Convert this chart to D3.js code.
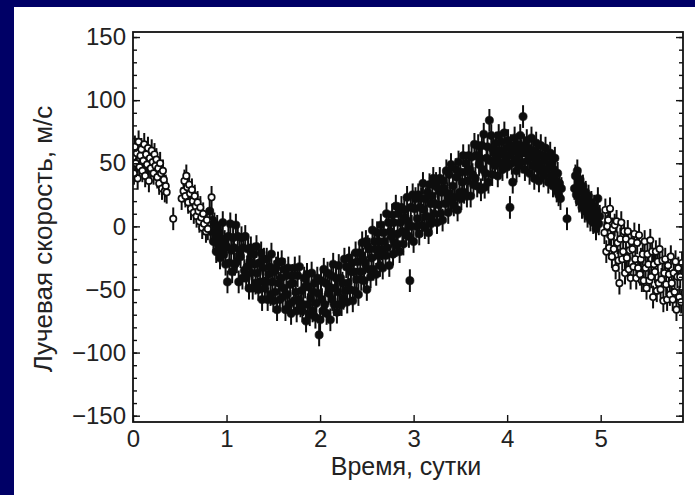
<!DOCTYPE html>
<html><head><meta charset="utf-8">
<script src="https://cdn.jsdelivr.net/npm/d3@7"></script>
<style>html,body{margin:0;padding:0;background:#000066;}svg{display:block;}</style>
</head><body>
<script>
// ---- data ----
const xTicks = [0, 1, 2, 3, 4, 5];
const yTicks = [-150, -100, -50, 0, 50, 100, 150];
const yMinorStep = 10;
const errHalf = 9; // m/s error bar half-length
const xTitle = "Время, сутки";
const yTitle = "Лучевая скорость, м/с";

// open symbols (time in days, radial velocity m/s)
const openPoints = [
[0.00,55],[0.01,42],[0.02,63],[0.03,50],[0.04,58],[0.05,38],[0.06,67],[0.07,47],[0.08,56],[0.09,61],
[0.10,44],[0.11,52],[0.12,65],[0.13,40],[0.14,57],[0.15,49],[0.16,62],[0.17,36],[0.18,54],[0.19,46],
[0.20,60],[0.21,51],[0.22,42],[0.23,57],[0.24,48],[0.25,53],[0.26,39],[0.27,46],[0.28,34],[0.29,50],
[0.30,42],[0.31,30],[0.32,44],[0.33,37],[0.34,28],[0.35,32],[0.36,27],[0.43,6],[0.52,22],[0.54,28],
[0.55,36],[0.56,24],[0.57,40],[0.58,31],[0.59,19],[0.60,33],[0.61,26],[0.62,14],[0.63,29],[0.64,20],
[0.65,11],[0.66,24],[0.67,16],[0.68,8],[0.69,19],[0.70,12],[0.71,4],[0.72,15],[0.73,7],[0.74,-1],
[0.75,10],[0.76,2],[0.78,-4],[0.79,5],[0.80,-2],[0.84,23],
[5.04,-5],[5.05,13],[5.06,-20],[5.07,0],[5.08,5],[5.09,-17],[5.10,14],[5.11,-8],[5.12,-24],[5.13,-2],
[5.14,-18],[5.15,1],[5.16,-33],[5.17,4],[5.18,-13],[5.19,-27],[5.20,-45],[5.21,-10],[5.22,3],[5.23,-26],
[5.24,-20],[5.25,-4],[5.26,-37],[5.27,-10],[5.28,-25],[5.29,-4],[5.30,-34],[5.31,-19],[5.32,-41],[5.33,-12],
[5.34,-18],[5.35,-32],[5.36,-6],[5.37,-26],[5.38,-41],[5.39,-13],[5.40,-33],[5.41,-7],[5.42,-38],[5.43,-26],
[5.44,-43],[5.45,-22],[5.46,-43],[5.47,-12],[5.48,-33],[5.49,-49],[5.50,-22],[5.51,-30],[5.52,-43],[5.53,-11],
[5.54,-40],[5.55,-20],[5.56,-56],[5.57,-30],[5.58,-36],[5.59,-20],[5.60,-51],[5.61,-28],[5.62,-45],[5.63,-18],
[5.64,-50],[5.65,-42],[5.66,-27],[5.67,-59],[5.68,-37],[5.69,-26],[5.70,-46],[5.71,-58],[5.72,-31],[5.73,-38],
[5.74,-54],[5.75,-24],[5.76,-45],[5.77,-58],[5.78,-37],[5.79,-52],[5.80,-28],[5.81,-66],[5.82,-40],[5.83,-33],
[5.84,-56],[5.85,-40],[5.86,-60],[5.87,-29]
];

// filled symbols
const filledPoints = [
[0.82,12],[0.83,-4],[0.85,5],[0.86,-12],[0.87,2],[0.88,-8],[0.89,-20],[0.90,0],[0.91,-14],[0.92,-5],
[0.93,-25],[0.94,-9],[0.95,-17],[0.96,3],[0.97,-22],[0.98,-12],[0.99,-30],[1.00,-16],[1.01,-44],
[1.02,-8],[1.03,-29],[1.04,2],[1.05,-19],[1.06,-36],[1.07,-9],[1.08,-17],[1.09,-30],[1.10,1],[1.11,-28],
[1.12,-8],[1.13,-44],[1.14,-19],[1.15,-24],[1.16,-9],[1.17,-41],[1.18,-17],[1.19,-35],[1.20,-8],[1.21,-41],
[1.22,-32],[1.23,-18],[1.24,-49],[1.25,-28],[1.26,-17],[1.27,-37],[1.28,-49],[1.29,-22],[1.30,-30],[1.31,-45],
[1.32,-16],[1.33,-37],[1.34,-50],[1.35,-29],[1.36,-44],[1.37,-21],[1.38,-58],[1.39,-33],[1.40,-26],[1.41,-49],
[1.42,-44],[1.43,-26],[1.44,-58],[1.45,-38],[1.46,-32],[1.47,-54],[1.48,-22],[1.49,-44],[1.50,-59],[1.51,-36],
[1.52,-52],[1.53,-33],[1.54,-66],[1.55,-29],[1.56,-45],[1.57,-58],[1.58,-41],[1.59,-28],[1.60,-56],[1.61,-49],
[1.62,-34],[1.63,-66],[1.64,-39],[1.65,-54],[1.66,-33],[1.67,-62],[1.68,-46],[1.69,-69],[1.70,-39],[1.71,-45],
[1.72,-59],[1.73,-33],[1.74,-52],[1.75,-67],[1.76,-39],[1.77,-58],[1.78,-32],[1.79,-63],[1.80,-51],[1.81,-67],
[1.82,-62],[1.83,-41],[1.84,-48],[1.85,-75],[1.86,-38],[1.87,-62],[1.88,-48],[1.89,-70],[1.90,-57],[1.91,-37],
[1.92,-67],[1.93,-52],[1.94,-45],[1.95,-72],[1.96,-61],[1.97,-41],[1.98,-53],[1.99,-86],[2.00,-74],[2.01,-43],
[2.02,-58],[2.03,-67],[2.04,-34],[2.05,-62],[2.06,-45],[2.07,-69],[2.08,-37],[2.09,-53],[2.10,-48],[2.11,-74],
[2.12,-39],[2.13,-58],[2.14,-30],[2.15,-62],[2.16,-49],[2.17,-41],[2.18,-68],[2.19,-52],[2.20,-31],[2.21,-62],
[2.22,-41],[2.23,-62],[2.24,-45],[2.25,-57],[2.26,-26],[2.27,-51],[2.28,-32],[2.29,-60],[2.30,-45],[2.31,-25],
[2.32,-50],[2.33,-36],[2.34,-29],[2.35,-59],[2.36,-36],[2.37,-51],[2.38,-21],[2.39,-42],[2.40,-28],[2.41,-54],
[2.42,-21],[2.43,-36],[2.44,-42],[2.45,-13],[2.46,-26],[2.47,-43],[2.48,-29],[2.49,-12],[2.50,-50],[2.51,-16],
[2.52,-34],[2.53,-18],[2.54,-40],[2.55,-25],[2.56,-3],[2.57,-34],[2.58,-12],[2.59,-18],[2.60,-38],[2.61,-5],
[2.62,-23],[2.63,-12],[2.64,-31],[2.65,1],[2.66,-18],[2.67,-33],[2.68,-5],[2.69,-12],[2.70,-23],[2.71,10],
[2.72,-17],[2.73,3],[2.74,-31],[2.75,-4],[2.76,-8],[2.77,9],[2.78,-22],[2.79,3],[2.80,-13],[2.81,16],
[2.82,-15],[2.83,-6],[2.84,10],[2.85,-20],[2.86,3],[2.87,15],[2.88,-4],[2.89,-14],[2.90,13],[2.91,7],
[2.92,-7],[2.93,23],[2.94,4],[2.95,-8],[2.96,-43],[2.97,15],[2.98,0],[2.99,25],[3.00,-12],[3.01,14],
[3.02,22],[3.03,0],[3.04,6],[3.05,25],[3.06,-6],[3.07,15],[3.08,22],[3.09,1],[3.10,34],[3.11,13],
[3.12,-1],[3.13,22],[3.14,8],[3.15,27],[3.16,-5],[3.17,33],[3.18,18],[3.185,2],[3.19,5],[3.20,24],
[3.21,38],[3.22,10],[3.23,18],[3.24,34],[3.25,3],[3.26,30],[3.27,17],[3.28,38],[3.29,10],[3.30,27],
[3.31,5],[3.32,36],[3.33,30],[3.34,18],[3.35,44],[3.36,26],[3.37,11],[3.38,41],[3.39,22],[3.40,49],
[3.41,20],[3.42,32],[3.43,17],[3.44,23],[3.45,45],[3.46,39],[3.47,13],[3.48,51],[3.49,27],[3.50,43],
[3.51,22],[3.52,35],[3.53,56],[3.54,27],[3.55,43],[3.56,50],[3.57,24],[3.58,36],[3.59,56],[3.60,45],
[3.61,24],[3.62,55],[3.63,41],[3.64,33],[3.65,65],[3.66,38],[3.67,56],[3.68,32],[3.69,64],[3.70,49],
[3.71,54],[3.72,29],[3.73,64],[3.74,45],[3.75,73],[3.76,31],[3.77,42],[3.78,54],[3.79,63],[3.80,35],
[3.81,84],[3.82,52],[3.83,72],[3.84,41],[3.85,61],
[3.86,58],[3.87,48],[3.88,66],[3.89,55],[3.90,40],[3.91,72],
[3.92,60],[3.93,50],[3.94,67],[3.95,45],[3.96,57],[3.97,74],[3.98,52],[3.99,62],[4.00,47],[4.01,68],
[4.02,56],[4.03,15],[4.04,64],[4.05,50],[4.06,35],[4.07,60],[4.08,70],[4.09,53],[4.10,44],[4.11,65],
[4.12,57],[4.13,48],[4.14,72],[4.15,60],[4.16,51],[4.17,87],[4.18,64],[4.19,45],[4.20,58],[4.21,68],
[4.22,52],[4.23,62],[4.24,42],[4.25,55],[4.26,70],[4.27,48],[4.28,60],[4.29,38],[4.30,53],[4.31,66],
[4.32,46],[4.33,58],[4.34,36],[4.35,50],[4.36,64],[4.37,44],[4.38,56],[4.39,40],[4.40,52],[4.41,62],
[4.42,45],[4.43,55],[4.44,35],[4.45,48],[4.46,58],
[4.47,40],[4.48,50],[4.49,32],[4.50,45],[4.51,54],[4.52,36],[4.53,28],[4.54,42],[4.55,25],[4.56,34],
[4.57,22],[4.58,30],[4.64,6],
[4.72,30],[4.73,40],[4.74,25],[4.75,44],[4.76,33],[4.77,20],[4.78,37],[4.79,28],[4.80,15],[4.81,32],
[4.82,22],[4.83,12],[4.84,27],[4.85,18],[4.86,8],[4.87,24],[4.88,14],[4.89,5],[4.90,19],[4.91,10],
[4.92,3],[4.93,16],[4.94,6],[4.95,-2],[4.96,12],[4.97,22],[4.98,2],[4.99,8]
];

// ---- drawing ----
const W = 695, H = 495;
const svg = d3.select("body").append("svg").attr("width", W).attr("height", H);
svg.append("rect").attr("width", W).attr("height", H).attr("fill", "#000066");
svg.append("rect").attr("x", 14).attr("y", 7).attr("width", W - 14).attr("height", H - 7).attr("fill", "#ffffff");

const plotL = 133, plotR = 683, plotT = 32, plotB = 422;
const x = d3.scaleLinear().domain([0, 5.88]).range([plotL, plotR]);
const y = d3.scaleLinear().domain([-155, 154]).range([plotB, plotT]);

const font = "'Liberation Sans', Arial, Helvetica, sans-serif";
const minorTicks = d3.range(-150, 151, yMinorStep);

const defs = svg.append("defs");
defs.append("clipPath").attr("id", "plotclip")
  .append("rect").attr("x", plotL).attr("y", plotT).attr("width", plotR - plotL).attr("height", plotB - plotT);
defs.append("filter").attr("id", "soft").append("feGaussianBlur").attr("stdDeviation", 0.45);

const dataG = svg.append("g").attr("clip-path", "url(#plotclip)").append("g").attr("filter", "url(#soft)");

function drawSeries(points, open) {
  const g = dataG.append("g");
  g.selectAll("line").data(points).join("line")
    .attr("x1", d => x(d[0])).attr("x2", d => x(d[0]))
    .attr("y1", d => y(d[1] - errHalf)).attr("y2", d => y(d[1] + errHalf))
    .attr("stroke", "#111").attr("stroke-width", 2);
  g.selectAll("circle").data(points).join("circle")
    .attr("cx", d => x(d[0])).attr("cy", d => y(d[1]))
    .attr("r", open ? 3.2 : 4.1)
    .attr("fill", open ? "#fff" : "#111")
    .attr("stroke", "#111").attr("stroke-width", open ? 1.7 : 0.6);
}
drawSeries(filledPoints, false);
drawSeries(openPoints, true);

// axes
function styleAxis(g) {
  g.select(".domain").remove();
  g.selectAll("line").attr("stroke", "#111").attr("stroke-width", 1.4);
  g.selectAll("text").attr("font-family", font).attr("font-size", 24).attr("fill", "#222");
}
svg.append("g").attr("transform", `translate(${plotL},0)`)
  .call(d3.axisLeft(y).tickValues(minorTicks).tickSize(-4).tickFormat(""))
  .call(styleAxis);
svg.append("g").attr("transform", `translate(${plotL},0)`)
  .call(d3.axisLeft(y).tickValues(yTicks).tickSize(-7).tickPadding(7).tickFormat(d => d < 0 ? "\u2212" + Math.abs(d) : d))
  .call(styleAxis);
svg.append("g").attr("transform", `translate(${plotR},0)`)
  .call(d3.axisRight(y).tickValues(minorTicks).tickSize(-4).tickFormat(""))
  .call(styleAxis);
svg.append("g").attr("transform", `translate(${plotR},0)`)
  .call(d3.axisRight(y).tickValues(yTicks).tickSize(-7).tickFormat(""))
  .call(styleAxis);
svg.append("g").attr("transform", `translate(0,${plotB})`)
  .call(d3.axisBottom(x).tickValues(xTicks).tickSize(-7).tickPadding(8).tickFormat(d3.format("d")))
  .call(styleAxis);

// frame
svg.append("rect").attr("x", plotL).attr("y", plotT).attr("width", plotR - plotL).attr("height", plotB - plotT)
  .attr("fill", "none").attr("stroke", "#111").attr("stroke-width", 1.8);

// titles
svg.append("text").attr("x", 406).attr("y", 475)
  .attr("text-anchor", "middle").attr("font-family", font).attr("font-size", 25).attr("fill", "#222")
  .text(xTitle);
svg.append("text").attr("transform", `translate(52,239) rotate(-90)`)
  .attr("text-anchor", "middle").attr("font-family", font).attr("font-size", 26).attr("fill", "#222")
  .text(yTitle);
</script>
</body></html>
